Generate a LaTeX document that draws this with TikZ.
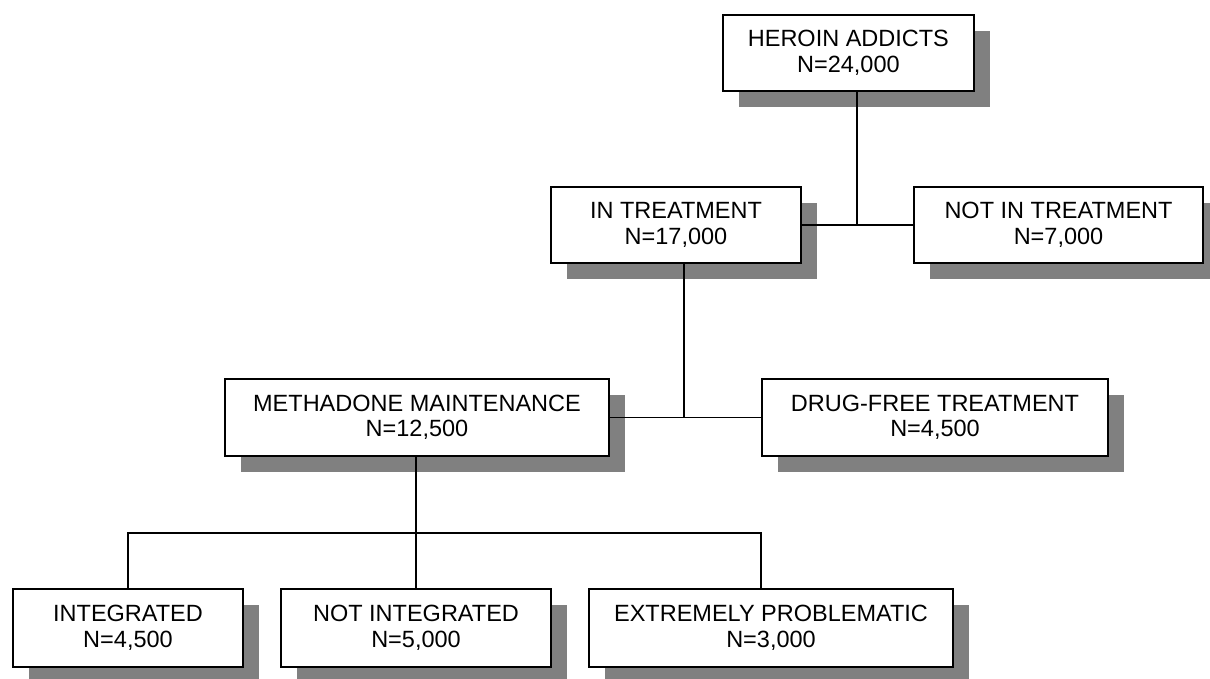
\documentclass[tikz,border=0pt]{standalone}
\usepackage{fontspec}
\setmainfont{Liberation Sans}
\usetikzlibrary{shadows}
\definecolor{shadowgray}{RGB}{128,128,128}
\begin{document}
\begin{tikzpicture}[x=1pt,y=-1pt,
  box/.style={draw, fill=white, line width=1.8pt, inner sep=0pt, align=center,
    font=\fontsize{23.5}{25.5}\selectfont,
    drop shadow={shadow xshift=16pt, shadow yshift=-16pt, fill=shadowgray, opacity=1}},
  conn/.style={line width=1.8pt}]
\useasboundingbox (0,0) rectangle (1210,678);
\clip (0,0) rectangle (1210,678);
% row 1
\node[box, minimum width=251pt, minimum height=76pt] (ha) at (848.4,53) {HEROIN ADDICTS\\N=24,000};
% row 2
\node[box, minimum width=250pt, minimum height=76pt] (it) at (676,225) {IN TREATMENT\\N=17,000};
\node[box, minimum width=289pt, minimum height=76pt] (nit) at (1058.5,225) {NOT IN TREATMENT\\N=7,000};
% row 3
\node[box, minimum width=384pt, minimum height=77pt] (mm) at (417,417.5) {METHADONE MAINTENANCE\\N=12,500};
\node[box, minimum width=346pt, minimum height=77pt] (df) at (935,417.5) {DRUG-FREE TREATMENT\\N=4,500};
% row 4
\node[box, minimum width=230pt, minimum height=78pt] (ig) at (128,628) {INTEGRATED\\N=4,500};
\node[box, minimum width=270pt, minimum height=78pt] (ni) at (416,628) {NOT INTEGRATED\\N=5,000};
\node[box, minimum width=364pt, minimum height=78pt] (ep) at (771,628) {EXTREMELY PROBLEMATIC\\N=3,000};
% junctions
\coordinate (j1) at (857,225);
\coordinate (j2) at (684,417.5);
\coordinate (j3) at (416,533);
\coordinate (j4) at (761,533);
% connectors
\draw[conn] (ha.south -| j1) -- (j1);
\draw[conn] (it.east) -- (nit.west);
\draw[conn] (it.south -| j2) -- (j2);
\draw[conn] (mm.east) -- (df.west);
\draw[conn] (mm.south -| j3) -- (ni.north -| j3);
\draw[conn] (ig.north) |- (j3) -- (j4) -- (ep.north -| j4);
\end{tikzpicture}
\end{document}
